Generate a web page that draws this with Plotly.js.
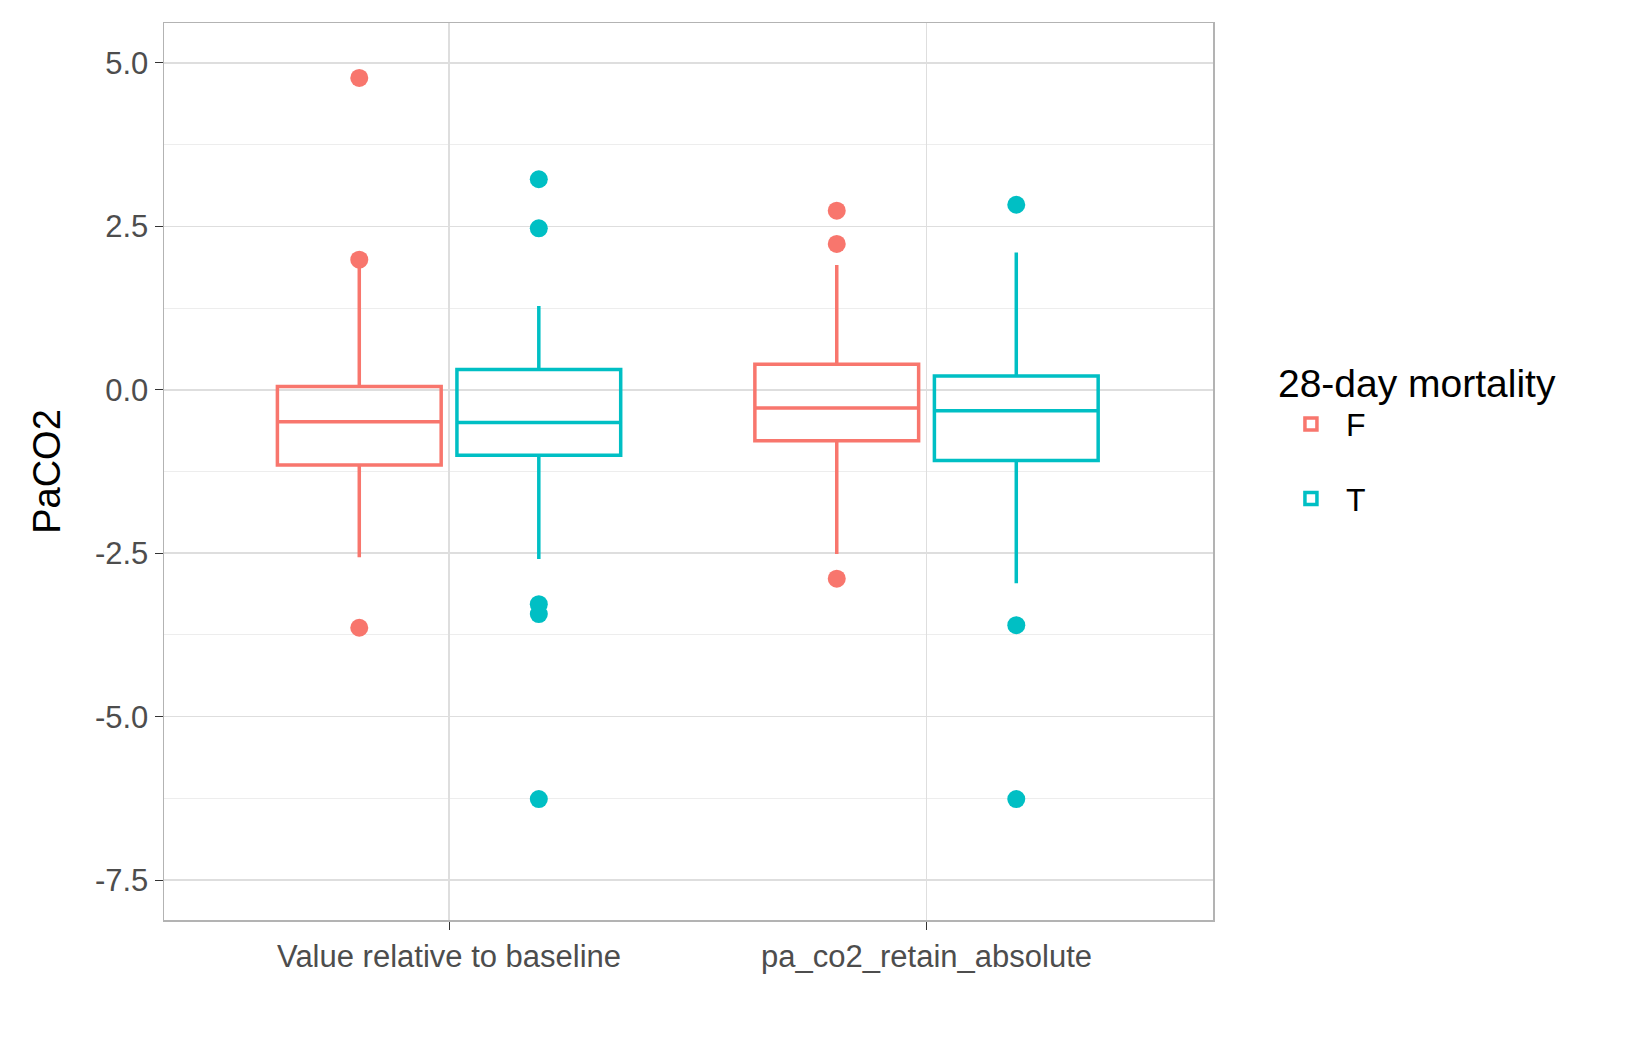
<!DOCTYPE html>
<html>
<head>
<meta charset="utf-8">
<script src="https://cdn.plot.ly/plotly-3.0.1.min.js"></script>
<style>body{margin:0;background:#fff}</style>
</head>
<body>
<div id="chart" style="width:1649px;height:1049px"></div>
<script>
var categories = ['Value relative to baseline', 'pa_co2_retain_absolute'];
var groups = ['F', 'T'];
var colors = ['#F8766D', '#00BFC4'];

// box stats per group, one value per category
var q1F = [-1.15, -0.78], medF = [-0.49, -0.28], q3F = [0.05, 0.39], loF = [-2.56, -2.51], hiF = [1.99, 1.91];
var q1T = [-1.00, -1.08], medT = [-0.50, -0.32], q3T = [0.31, 0.21], loT = [-2.59, -2.96], hiT = [1.28, 2.10];

// outliers: category index and value
var outCatF = [0, 0, 0, 1, 1, 1];
var outValF = [4.77, 1.99, -3.64, 2.74, 2.23, -2.89];
var outCatT = [0, 0, 0, 0, 0, 1, 1, 1];
var outValT = [3.22, 2.47, -3.28, -3.43, -6.26, 2.83, -3.60, -6.26];

var dodge = 0.188, bw = 0.343;
function pos(cats, g) {
  return cats.map(function (c) { return c + 1 + (g === 0 ? -dodge : dodge); });
}

var stats = [[q1F, medF, q3F, loF, hiF], [q1T, medT, q3T, loT, hiT]];
var outs = [[outCatF, outValF], [outCatT, outValT]];
var data = [];
groups.forEach(function (name, g) {
  var s = stats[g];
  data.push({
    type: 'box', name: name, x: pos([0, 1], g),
    q1: s[0], median: s[1], q3: s[2], lowerfence: s[3], upperfence: s[4],
    width: bw, boxpoints: false, whiskerwidth: 0,
    line: {color: colors[g], width: 3.5}, fillcolor: 'rgba(255,255,255,0)',
    legendgroup: name
  });
  data.push({
    type: 'scatter', mode: 'markers', x: pos(outs[g][0], g), y: outs[g][1],
    marker: {color: colors[g], size: 18}, showlegend: false, legendgroup: name,
    hoverinfo: 'y'
  });
});

var layout = {
  width: 1649, height: 1049,
  margin: {l: 164, r: 436, t: 23, b: 129},
  paper_bgcolor: '#fff', plot_bgcolor: '#fff',
  font: {family: 'Liberation Sans, Arial, sans-serif', size: 31, color: '#4d4d4d'},
  xaxis: {
    range: [0.403, 2.6], tickvals: [1, 2], ticktext: categories,
    showgrid: true, gridcolor: '#dedede', gridwidth: 1.5,
    zeroline: false, ticks: 'outside', ticklen: 8, tickcolor: '#333',
    showline: true, mirror: true, linecolor: '#b3b3b3', linewidth: 1.5
  },
  yaxis: {
    range: [-8.11, 5.61], tickvals: [5, 2.5, 0, -2.5, -5, -7.5],
    ticktext: ['5.0', '2.5', '0.0', '-2.5', '-5.0', '-7.5'],
    showgrid: true, gridcolor: '#dedede', gridwidth: 1.5,
    minor: {tickvals: [3.75, 1.25, -1.25, -3.75, -6.25], showgrid: true, gridcolor: '#ededed', gridwidth: 1},
    zeroline: false, ticks: 'outside', ticklen: 8, tickcolor: '#333',
    showline: true, mirror: true, linecolor: '#b3b3b3', linewidth: 1.5,
    title: {text: 'PaCO2', font: {size: 38, color: '#000'}, standoff: 22}
  },
  legend: {
    x: 1.06, y: 0.64, xanchor: 'left', yanchor: 'top',
    title: {text: '28-day mortality', font: {size: 39, color: '#000'}},
    font: {size: 32, color: '#000'}, tracegroupgap: 30, itemwidth: 60
  },
  showlegend: true
};

Plotly.newPlot('chart', data, layout, {staticPlot: true});
</script>
</body>
</html>
